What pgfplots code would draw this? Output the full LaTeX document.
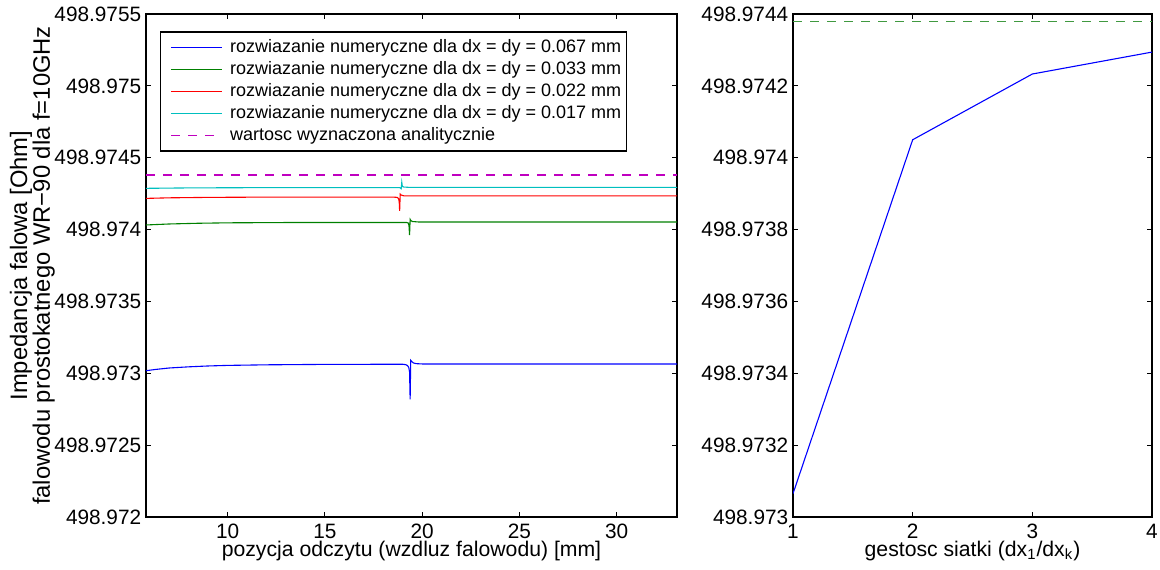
\documentclass[border=0pt]{standalone}
\usepackage{fontspec}
\setmainfont{Liberation Sans}
\usepackage{pgfplots}
\usepackage{pgfplotstable}
\pgfplotsset{compat=1.18}

\definecolor{mblue}{rgb}{0,0,1}
\definecolor{mgreen}{rgb}{0,0.5,0}
\definecolor{mgreenl}{rgb}{0.25,0.6,0.25}
\definecolor{mred}{rgb}{1,0,0}
\definecolor{mcyan}{rgb}{0,0.75,0.75}
\definecolor{mmag}{rgb}{0.75,0,0.75}

\newcommand\tickfs{\fontsize{10.4}{12}\selectfont}
\newcommand\labfs{\fontsize{10.6}{12.5}\selectfont}
\newcommand\legfs{\fontsize{9.0}{11}\selectfont}

% The impedances differ only in the 5th/6th decimal place, finer than TeX's
% arithmetic can resolve at 498.97 Ohm. All y values are therefore stored in
% micro-ohms above 498.97 Ohm (e.g. 3065 = 498.973065 Ohm); the tick labels
% carry the full values.
\pgfplotsset{
  mlab/.style={
    scale only axis,
    tick align=inside,
    tick pos=both,
    major tick length=2.7pt,
    tick style={black, line width=0.5pt},
    axis line style={line width=0.85pt},
    ticklabel style={font=\tickfs},
    yticklabel style={inner xsep=2.2pt},
    xticklabel style={inner ysep=0pt, yshift=-3.2pt},
    label style={font=\labfs},
    /pgf/number format/assume math mode=true,
    xlabel style={at={(axis description cs:0.5,0)}, anchor=base,
      inner sep=0pt, yshift=-19.8pt},
  },
  % legend samples, one fixed colour each
  legblue/.style={legend image code/.code={\path (0pt,0pt);
    \draw[draw=mblue, line width=0.6pt] (3pt,0pt) -- (28.3pt,0pt);}},
  leggreen/.style={legend image code/.code={\path (0pt,0pt);
    \draw[draw=mgreen, line width=0.6pt] (3pt,0pt) -- (28.3pt,0pt);}},
  legred/.style={legend image code/.code={\path (0pt,0pt);
    \draw[draw=mred, line width=0.6pt] (3pt,0pt) -- (28.3pt,0pt);}},
  legcyan/.style={legend image code/.code={\path (0pt,0pt);
    \draw[draw=mcyan, line width=0.6pt] (3pt,0pt) -- (28.3pt,0pt);}},
  legmag/.style={legend image code/.code={\path (0pt,0pt);
    \draw[draw=mmag, line width=0.6pt, dash pattern=on 4.5pt off 4pt]
      (3pt,0pt) -- (28.3pt,0pt);}},
}

% numerical solutions along the waveguide, one table per grid step
% (x in mm, z in micro-ohm above 498.97 Ohm)
\pgfplotstableread{
x z
5.8 3018
6.3 3027
7.0 3037
8.0 3045
9.0 3051
10.0 3055
12.0 3059
15.0 3062
19.0 3063
19.15 3060
19.25 3053
19.31 3040
19.35 3010
19.38 2819
19.41 3090
19.46 3082
19.55 3072
19.7 3067
20.0 3065
33.1 3065
}\dxA

\pgfplotstableread{
x z
5.8 4032
7.0 4039
8.5 4044
10.0 4047
13.0 4049
19.2 4049
19.28 4046
19.32 4030
19.35 3962
19.38 4071
19.42 4062
19.5 4056
19.8 4053
33.1 4053
}\dxB

\pgfplotstableread{
x z
5.8 4217
7.0 4221
9.0 4224
12.0 4226
18.5 4226
18.72 4224
18.79 4215
18.82 4190
18.84 4131
18.87 4247
18.92 4240
19.05 4235
19.4 4234
33.1 4234
}\dxC

\pgfplotstableread{
x z
5.8 4287
8.0 4290
12.0 4292
18.85 4292
18.92 4284
18.95 4329
18.98 4300
19.05 4296
19.3 4294
33.1 4294
}\dxD

% converged value against grid refinement (z in micro-ohm above 498.97 Ohm)
\pgfplotstableread{
k z
1 3065
2 4050
3 4233
4 4294
}\conv

\begin{document}
\begin{tikzpicture}
\useasboundingbox (-73pt,-26pt) rectangle (507pt,258.5pt);

\begin{axis}[
  mlab,
  width=265.5pt, height=251.5pt,
  xmin=5.8, xmax=33.1,
  ymin=2000, ymax=5500,
  xtick={10,15,20,25,30},
  ytick={2000,2500,3000,3500,4000,4500,5000,5500},
  yticklabels={498.972,498.9725,498.973,498.9735,498.974,498.9745,498.975,498.9755},
  xlabel={pozycja odczytu (wzdluz falowodu) [mm]},
  ylabel={Impedancja falowa [Ohm]\\falowodu prostokatnego WR−90 dla f=10GHz},
  ylabel style={align=center, font=\fontsize{11.9}{11.35}\selectfont,
    at={(axis description cs:-0.2139,0.5)}, anchor=center},
  legend cell align=left,
  legend style={
    at={(axis description cs:0.0264,0.966)}, anchor=north west,
    draw=black, line width=0.7pt, fill=white,
    inner xsep=2pt, inner ysep=2.15pt,
    row sep=0pt, column sep=3.3pt,
    font=\legfs,
    nodes={inner sep=0.5pt, text height=7.55pt, text depth=2.5pt},
  },
]
\addplot[color=mblue, line width=0.55pt, legblue] table[x=x, y=z] {\dxA};
\addlegendentry{rozwiazanie numeryczne dla dx = dy = 0.067 mm}
\addplot[color=mgreen, line width=0.55pt, leggreen] table[x=x, y=z] {\dxB};
\addlegendentry{rozwiazanie numeryczne dla dx = dy = 0.033 mm}
\addplot[color=mred, line width=0.55pt, legred] table[x=x, y=z] {\dxC};
\addlegendentry{rozwiazanie numeryczne dla dx = dy = 0.022 mm}
\addplot[color=mcyan, line width=0.55pt, legcyan] table[x=x, y=z] {\dxD};
\addlegendentry{rozwiazanie numeryczne dla dx = dy = 0.017 mm}
\addplot[color=mmag, line width=0.55pt, dash pattern=on 4.5pt off 4pt, legmag]
  coordinates {(5.8,4380) (33.1,4380)};
\addlegendentry{wartosc wyznaczona analitycznie}
\end{axis}

\begin{axis}[
  mlab,
  at={(323.5pt,0pt)},
  width=179.5pt, height=251.5pt,
  xmin=1, xmax=4,
  ymin=3000, ymax=4400,
  xtick={1,2,3,4},
  ytick={3000,3200,3400,3600,3800,4000,4200,4400},
  yticklabels={498.973,498.9732,498.9734,498.9736,498.9738,498.974,498.9742,498.9744},
  xlabel={gestosc siatki (dx\textsubscript{1}/dx\textsubscript{k})},
]
\addplot[color=mblue, line width=0.55pt] table[x=k, y=z] {\conv};
\addplot[color=mgreenl, line width=0.6pt, dash pattern=on 4.5pt off 4pt]
  coordinates {(1,4380) (4,4380)};
\end{axis}
\end{tikzpicture}
\end{document}
